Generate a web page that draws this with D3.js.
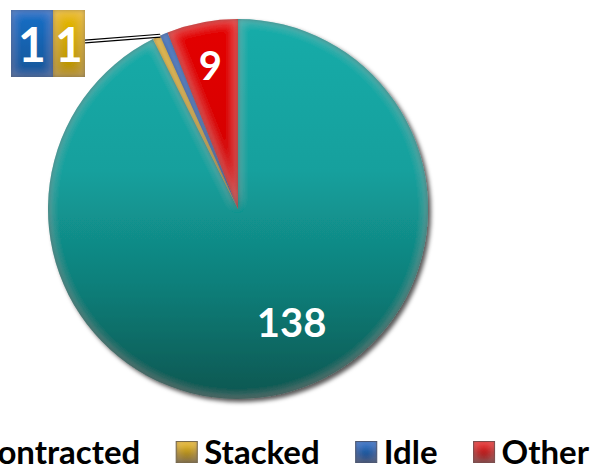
<!DOCTYPE html>
<html>
<head>
<meta charset="utf-8">
<script src="https://cdn.jsdelivr.net/npm/d3@7"></script>
<style>
  body { margin: 0; background: #fff; }
  svg { display: block; }
  text { font-family: Lato, "Open Sans", sans-serif; font-weight: bold; }
</style>
</head>
<body>
<div id="chart"></div>
<script>
// data
const categories = ["Contracted", "Stacked", "Idle", "Other"];
const counts = [138, 1, 1, 9];
const colors = ["#14a09d", "#d4a900", "#1565b4", "#d40000"];
const darkColors = ["#095650", "#7a6000", "#0a3a70", "#800000"];

const W = 593, H = 470;
const cx = 238, cy = 209, R = 190;

const svg = d3.select("#chart").append("svg")
  .attr("width", W).attr("height", H);

const defs = svg.append("defs");

// bevel look: dark inner edge + light rim
const bevel = defs.append("filter").attr("id", "bevel")
  .attr("x", "-10%").attr("y", "-10%").attr("width", "120%").attr("height", "120%");
bevel.append("feGaussianBlur").attr("in", "SourceAlpha").attr("stdDeviation", 2.5).attr("result", "blur");
bevel.append("feComposite").attr("in", "SourceAlpha").attr("in2", "blur").attr("operator", "out").attr("result", "edge");
bevel.append("feFlood").attr("flood-color", "#000").attr("flood-opacity", 0.6);
bevel.append("feComposite").attr("in2", "edge").attr("operator", "in").attr("result", "shade");
bevel.append("feGaussianBlur").attr("in", "SourceAlpha").attr("stdDeviation", 6).attr("result", "blur2");
bevel.append("feComposite").attr("in", "SourceAlpha").attr("in2", "blur2").attr("operator", "out").attr("result", "hiEdge");
bevel.append("feFlood").attr("flood-color", "#fff").attr("flood-opacity", 0.18);
bevel.append("feComposite").attr("in2", "hiEdge").attr("operator", "in").attr("result", "hi");
const bm = bevel.append("feMerge");
bm.append("feMergeNode").attr("in", "SourceGraphic");
bm.append("feMergeNode").attr("in", "hi");
bm.append("feMergeNode").attr("in", "shade");

const shadow = defs.append("filter").attr("id", "shadow")
  .attr("x", "-10%").attr("y", "-10%").attr("width", "125%").attr("height", "125%");
shadow.append("feDropShadow").attr("dx", 3).attr("dy", 3).attr("stdDeviation", 2)
  .attr("flood-color", "#000").attr("flood-opacity", 0.65);

// vertical gradient per category (pie group is centred, so -R..R)
categories.forEach(function(c, i) {
  const g = defs.append("linearGradient").attr("id", "grad" + i)
    .attr("gradientUnits", "userSpaceOnUse")
    .attr("x1", 0).attr("x2", 0).attr("y1", -R).attr("y2", R);
  g.append("stop").attr("offset", "0%").attr("stop-color", d3.color(colors[i]).brighter(0.2));
  g.append("stop").attr("offset", "40%").attr("stop-color", colors[i]);
  g.append("stop").attr("offset", "70%").attr("stop-color", d3.interpolateRgb(colors[i], darkColors[i])(0.45));
  g.append("stop").attr("offset", "100%").attr("stop-color", darkColors[i]);
});

const pie = d3.pie().sort(null).value(function(d) { return d; });
const arcs = pie(counts);
const arc = d3.arc().innerRadius(0).outerRadius(R);

const pieG = svg.append("g")
  .attr("transform", "translate(" + cx + "," + cy + ")")
  .attr("filter", "url(#shadow)");

pieG.selectAll("path.slice")
  .data(arcs)
  .enter()
  .append("path")
  .attr("class", "slice")
  .attr("d", arc)
  .attr("fill", function(d, i) { return "url(#grad" + i + ")"; })
  .attr("filter", "url(#bevel)");

// labels inside the larger slices
const labelArcInner = d3.arc().innerRadius(R * 0.77).outerRadius(R * 0.77);
const labelG = svg.append("g").attr("transform", "translate(" + cx + "," + cy + ")");

arcs.forEach(function(d, i) {
  if (d.value < 5) return;
  let pos;
  if (d.index === 0) {
    // big slice: label sits a bit toward the right (best fit)
    const a = (d.startAngle + d.endAngle) / 2 - 0.21;
    const r = R * 0.66;
    pos = [r * Math.sin(a), -r * Math.cos(a)];
  } else {
    pos = labelArcInner.centroid(d);
  }
  labelG.append("text")
    .attr("x", pos[0]).attr("y", pos[1])
    .attr("dy", "0.36em")
    .attr("text-anchor", "middle")
    .attr("font-size", 40)
    .attr("fill", "#fff")
    .text(d.value);
});

// callout for the two tiny slices
const small = arcs.filter(function(d) { return d.value < 5; });
const edgeAngle = small[0].endAngle;
const leaderEnd = [cx + R * Math.sin(edgeAngle), cy - R * Math.cos(edgeAngle)];
const boxY = 10, boxH = 67;
const boxes = [
  { d: small[1], x: 11, w: 42 },
  { d: small[0], x: 53, w: 32 }
];
const leaderStart = [85, boxY + boxH / 2 - 2];

svg.append("line")
  .attr("x1", leaderStart[0]).attr("y1", leaderStart[1])
  .attr("x2", leaderEnd[0]).attr("y2", leaderEnd[1])
  .attr("stroke", "#000").attr("stroke-width", 4);
svg.append("line")
  .attr("x1", leaderStart[0]).attr("y1", leaderStart[1])
  .attr("x2", leaderEnd[0]).attr("y2", leaderEnd[1])
  .attr("stroke", "#fff").attr("stroke-width", 1.6);

boxes.forEach(function(b) {
  const i = b.d.index;
  const bg = defs.append("linearGradient").attr("id", "boxGrad" + i)
    .attr("x1", 0).attr("x2", 0).attr("y1", 0).attr("y2", 1);
  bg.append("stop").attr("offset", "0%").attr("stop-color", d3.color(colors[i]).brighter(0.3));
  bg.append("stop").attr("offset", "100%").attr("stop-color", d3.color(colors[i]).darker(0.5));
  svg.append("rect")
    .attr("x", b.x).attr("y", boxY).attr("width", b.w).attr("height", boxH)
    .attr("fill", "url(#boxGrad" + i + ")")
    .attr("filter", "url(#bevel)");
  svg.append("text")
    .attr("x", b.x + b.w / 2).attr("y", boxY + boxH / 2 + 1)
    .attr("dy", "0.36em")
    .attr("text-anchor", "middle")
    .attr("font-size", 48)
    .attr("fill", "#fff")
    .text(b.d.value);
});

// legend, laid out right to left so it ends near the right edge
const legendRight = 589, legendY = 452, markSize = 21, markGap = 7, itemGap = 36;
const legend = svg.append("g");
const items = categories.map(function(c, i) {
  const g = legend.append("g");
  const t = g.append("text")
    .attr("font-size", 33)
    .attr("fill", "#000")
    .attr("dy", "0.36em")
    .text(c);
  return { g: g, t: t, w: t.node().getComputedTextLength(), i: i };
});

let xr = legendRight;
for (let k = items.length - 1; k >= 0; k--) {
  const it = items[k];
  const textX = xr - it.w;
  const markX = textX - markGap - markSize;
  it.t.attr("x", textX).attr("y", legendY);
  const mg = defs.append("linearGradient").attr("id", "markGrad" + it.i)
    .attr("x1", 0).attr("x2", 0).attr("y1", 0).attr("y2", 1);
  mg.append("stop").attr("offset", "0%").attr("stop-color", d3.color(colors[it.i]).brighter(0.4));
  mg.append("stop").attr("offset", "100%").attr("stop-color", darkColors[it.i]);
  it.g.insert("rect", "text")
    .attr("x", markX).attr("y", legendY - markSize / 2)
    .attr("width", markSize).attr("height", markSize)
    .attr("fill", "url(#markGrad" + it.i + ")")
    .attr("stroke", darkColors[it.i]).attr("stroke-width", 1)
    .attr("filter", "url(#bevel)");
  xr = markX - itemGap;
}
</script>
</body>
</html>
